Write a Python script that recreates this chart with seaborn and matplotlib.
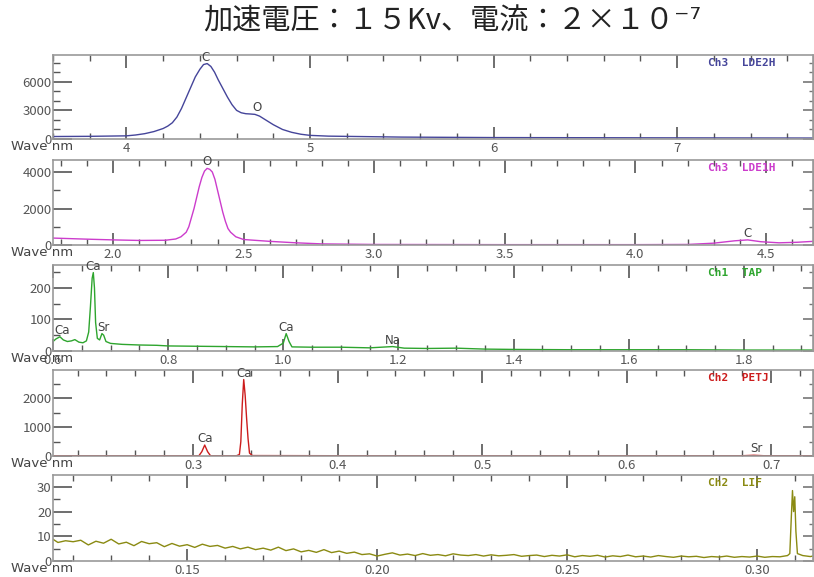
import numpy as np
import seaborn as sns
import matplotlib.pyplot as plt
from matplotlib.ticker import MultipleLocator, FormatStrFormatter

# ---- data ----
# Ch3 LDE2H
lde2h_x = [3.60, 3.80, 4.00, 4.05, 4.10, 4.15, 4.20, 4.225, 4.25, 4.275, 4.30, 4.325, 4.35,
           4.375, 4.40, 4.42, 4.44, 4.46, 4.48, 4.50, 4.525, 4.55, 4.575, 4.60, 4.625, 4.65,
           4.675, 4.70, 4.725, 4.75, 4.775, 4.80, 4.85, 4.90, 4.95, 5.00, 5.10, 5.30, 5.50,
           6.00, 7.00, 7.74]
lde2h_y = [260, 280, 330, 420, 560, 780, 1100, 1350, 1700, 2300, 3200, 4300, 5400,
           6500, 7300, 7800, 7900, 7600, 7000, 6200, 5300, 4400, 3600, 3000, 2750, 2650,
           2620, 2580, 2400, 2100, 1800, 1500, 1000, 700, 500, 380, 300, 250, 200,
           150, 120, 100]

# Ch3 LDE1H
lde1h_x = [1.77, 1.90, 2.00, 2.10, 2.20, 2.24, 2.26, 2.28, 2.29, 2.30, 2.31, 2.32, 2.33, 2.34,
           2.35, 2.36, 2.37, 2.38, 2.39, 2.40, 2.41, 2.42, 2.43, 2.44, 2.45, 2.47, 2.50, 2.60,
           2.70, 2.80, 3.00, 3.50, 4.00, 4.20, 4.30, 4.38, 4.43, 4.48, 4.55, 4.62, 4.68]
lde1h_y = [380, 320, 280, 250, 260, 330, 450, 700, 1000, 1500, 2000, 2600, 3200, 3700,
           4050, 4200, 4150, 4000, 3600, 3000, 2400, 1800, 1300, 900, 700, 450, 300, 200,
           120, 60, 30, 20, 20, 30, 100, 230, 280, 180, 120, 150, 200]

# Ch1 TAP
tap_x = [0.600, 0.605, 0.612, 0.618, 0.625, 0.632, 0.638, 0.645, 0.652, 0.658, 0.662, 0.665,
         0.668, 0.670, 0.672, 0.674, 0.677, 0.681, 0.685, 0.688, 0.692, 0.700, 0.720, 0.750,
         0.780, 0.800, 0.850, 0.900, 0.950, 0.990, 1.000, 1.005, 1.010, 1.015, 1.050, 1.100,
         1.150, 1.190, 1.210, 1.250, 1.300, 1.350, 1.400, 1.500, 1.600, 1.700, 1.800, 1.920]
tap_y = [30, 38, 45, 35, 30, 32, 36, 28, 26, 32, 60, 140,
         230, 248, 200, 90, 40, 35, 55, 50, 30, 24, 21, 19,
         18, 16, 15, 14, 13, 14, 25, 55, 30, 13, 12, 12,
         10, 14, 9, 8, 9, 6, 5, 4, 4, 4, 3, 3]

# Ch2 PETJ
petj_x = [0.203, 0.250, 0.300, 0.304, 0.306, 0.308, 0.310, 0.312, 0.330, 0.332, 0.333, 0.334,
          0.335, 0.336, 0.337, 0.338, 0.339, 0.341, 0.400, 0.500, 0.600, 0.680, 0.688, 0.695,
          0.729]
petj_y = [10, 8, 8, 10, 150, 380, 150, 10, 10, 50, 500, 1800,
          2650, 2100, 1300, 600, 100, 15, 10, 8, 8, 10, 25, 10,
          8]

# Ch2 LIF (noisy background sampled every 0.002 nm, then the peak)
lif_bg_x = np.round(np.linspace(0.114, 0.308, 98), 4)
lif_bg_y = [9.5, 7.5, 8.2, 7.8, 8.4, 6.5, 8.0, 7.2, 8.8, 6.9, 7.6, 6.2, 7.9, 7.0, 7.4, 5.8,
            7.1, 6.0, 6.6, 5.5, 6.8, 5.9, 6.3, 5.2, 5.9, 4.9, 5.6, 4.6, 5.2, 4.4, 5.6, 4.2,
            4.9, 3.7, 4.3, 3.5, 4.6, 3.4, 4.0, 3.1, 3.6, 2.6, 2.9, 2.0, 2.7, 3.3, 2.4, 2.8,
            2.2, 3.0, 2.3, 2.6, 2.1, 2.9, 2.4, 2.2, 2.6, 2.0, 2.5, 2.1, 2.3, 2.6, 1.9, 2.2,
            2.4, 1.8, 2.3, 2.0, 2.5, 1.7, 2.2, 1.9, 2.3, 1.6, 2.1, 1.8, 2.4, 1.7, 2.0, 1.6,
            2.2, 1.8, 1.5, 2.0, 1.7, 1.9, 1.4, 1.8, 1.6, 2.0, 1.5, 1.8, 1.6, 2.0, 1.5, 1.8,
            1.7, 2.2]
lif_pk_x = [0.3086, 0.3090, 0.3093, 0.3096, 0.3099, 0.3102, 0.3106, 0.3120, 0.3140, 0.3147]
lif_pk_y = [3.0, 18.0, 28.5, 20.0, 26.0, 12.0, 3.0, 2.2, 1.8, 2.0]

# peak labels
lde2h_lab = [("C", 4.43, 7900), ("O", 4.71, 2600)]
lde1h_lab = [("O", 2.36, 4200), ("C", 4.43, 280)]
tap_lab = [("Ca", 0.615, 45), ("Ca", 0.670, 248), ("Sr", 0.688, 55), ("Ca", 1.005, 55), ("Na", 1.19, 14)]
petj_lab = [("Ca", 0.308, 380), ("Ca", 0.335, 2650), ("Sr", 0.690, 25)]
lif_lab = []

title = "加速電圧：１５Kv、電流：２×１０⁻⁷"

sns.set_style("white")
plt.rcParams['font.family'] = ['Noto Sans CJK JP', 'DejaVu Sans']

fig = plt.figure(figsize=(8.14, 5.77), dpi=100)
fig.text(0.555, 0.963, title, ha='center', va='center', fontsize=21, color='#222222')

panels = [
    # x, y, labels, channel, color, xlim, ylim, xmaj, xmin, ymaj, ymin, fmt, top, bottom (px)
    (lde2h_x, lde2h_y, lde2h_lab, "Ch3  LDE2H", "#45459a", (3.60, 7.74), (0, 8800), 1, 0.2, 3000, 1000, "%d", 55, 139),
    (lde1h_x, lde1h_y, lde1h_lab, "Ch3  LDE1H", "#cc3ccc", (1.77, 4.68), (0, 4660), 0.5, 0.1, 2000, 1000, "%.1f", 160, 245),
    (tap_x, tap_y, tap_lab, "Ch1  TAP", "#2ea52e", (0.60, 1.92), (0, 272), 0.2, 0.05, 100, 50, "%.1f", 265, 351),
    (petj_x, petj_y, petj_lab, "Ch2  PETJ", "#cc1c1c", (0.203, 0.729), (0, 2980), 0.1, 0.02, 1000, 500, "%.1f", 370, 456),
    (None, None, lif_lab, "Ch2  LIF", "#8a8a12", (0.1147, 0.3147), (0, 34.8), 0.05, 0.01, 10, 5, "%.2f", 475, 561),
]

W, H = 814, 577
for i, (xs, ys, labs, chan, col, xlim, ylim, xmaj, xmin, ymaj, ymin, fmt, top, bot) in enumerate(panels):
    ax = fig.add_axes([53 / W, 1 - bot / H, 760 / W, (bot - top) / H])
    if xs is None:
        xs = list(lif_bg_x) + lif_pk_x
        ys = lif_bg_y + lif_pk_y
    sns.lineplot(x=xs, y=ys, ax=ax, color=col, linewidth=1.0, sort=True)
    ax.set_xlim(*xlim)
    ax.set_ylim(*ylim)
    ax.xaxis.set_major_locator(MultipleLocator(xmaj))
    ax.xaxis.set_minor_locator(MultipleLocator(xmin))
    ax.xaxis.set_major_formatter(FormatStrFormatter(fmt))
    ax.yaxis.set_major_locator(MultipleLocator(ymaj))
    ax.yaxis.set_minor_locator(MultipleLocator(ymin))
    ax.tick_params(axis='x', which='both', direction='in', top=True, bottom=True,
                   colors='#555555', labelsize=9.5, pad=2)
    ax.tick_params(axis='x', which='major', length=9, width=1.2)
    ax.tick_params(axis='x', which='minor', length=4, width=1)
    ax.tick_params(axis='y', which='both', direction='in', left=True, right=False,
                   colors='#555555', labelsize=9.5, pad=1)
    ax.tick_params(axis='y', which='major', length=14, width=1.2)
    ax.tick_params(axis='y', which='minor', length=5, width=1)
    sec = ax.secondary_yaxis('right')
    sec.yaxis.set_major_locator(MultipleLocator(ymaj))
    sec.yaxis.set_minor_locator(MultipleLocator(ymin))
    sec.tick_params(which='both', direction='in', colors='#777777', labelright=False)
    sec.tick_params(which='major', length=7, width=1.2)
    sec.tick_params(which='minor', length=3, width=1)
    sec.spines['right'].set_color('#999999')
    for s in ax.spines.values():
        s.set_color('#999999')
        s.set_linewidth(1.2)
    ax.set_xlabel('')
    ax.set_ylabel('')
    ax.annotate("Wave nm", xy=(0, 0), xycoords='axes fraction', xytext=(-30, -1),
                textcoords='offset points', ha='left', va='top', fontsize=9.5,
                color='#444444', family='DejaVu Sans')
    ax.text(0.862, 0.96, chan, transform=ax.transAxes, ha='left', va='top', fontsize=8,
            color=col, family='DejaVu Sans Mono', fontweight='bold')
    for name, px, py in labs:
        ax.annotate(name, xy=(px, py), xytext=(0, 0), textcoords='offset points',
                    ha='center', va='bottom', fontsize=8.5, color='#444444', family='DejaVu Sans')

plt.savefig('out.png', dpi=100)
